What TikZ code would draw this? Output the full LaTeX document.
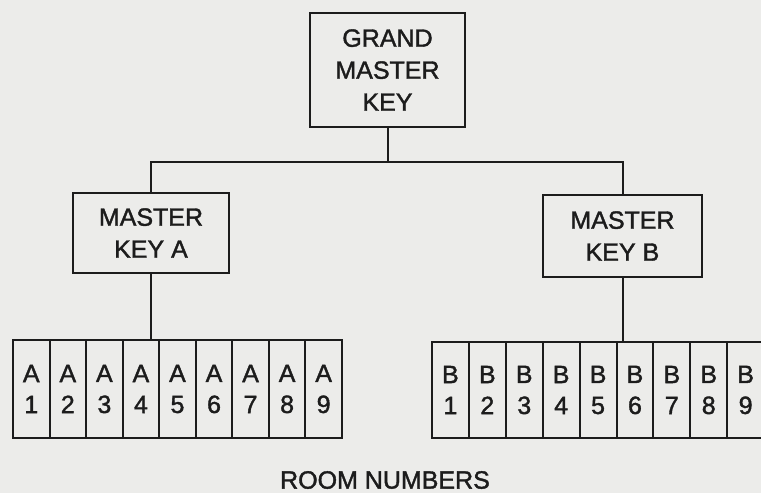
\documentclass[tikz,border=0pt]{standalone}
\usepackage{fontspec}
\setmainfont{Liberation Sans}[BoldFont=Liberation Sans, BoldFeatures={FakeBold=1.5}]
\definecolor{paper}{RGB}{236,236,234}
\definecolor{ink}{RGB}{28,28,28}
\tikzset{
  keybox/.style={draw=ink, line width=2pt, fill=paper, align=center, inner sep=0pt,
    font=\fontsize{25}{32}\bfseries\selectfont, text=ink},
  roomA/.style={draw=ink, line width=2pt, fill=paper, align=center, inner sep=0pt,
    minimum width=36.55pt, minimum height=98pt, font=\fontsize{25}{31}\bfseries\selectfont, text=ink},
  roomB/.style={roomA, minimum width=36.9pt, minimum height=96pt},
  link/.style={draw=ink, line width=2pt}
}
\begin{document}
\begin{tikzpicture}[x=1pt,y=-1pt]
\useasboundingbox (0,0) rectangle (761,493);
\fill[paper] (0,0) rectangle (761,493);
\clip (0,0) rectangle (761,493);
\node[keybox, minimum width=155pt, minimum height=114pt] (grand) at (387.5,70) {GRAND\\MASTER\\KEY};
\node[keybox, minimum width=156pt, minimum height=80pt] (mA) at (151,233) {MASTER\\KEY A};
\node[keybox, minimum width=159pt, minimum height=82pt] (mB) at (622.5,236) {MASTER\\KEY B};
\foreach \i in {1,...,9} {
  \node[roomA] (a\i) at ({13+36.55*(\i-0.5)},389) {A\\\i};
  \node[roomB] (b\i) at ({432+36.9*(\i-0.5)},390) {B\\\i};
}
\coordinate (bar) at (387.5,162);
\draw[link] (grand.south) -- (bar);
\draw[link] (mA.north) |- (bar) -| (mB.north);
\draw[link] (mA.south) -- (mA.south |- a4.north);
\draw[link] (mB.south) -- (mB.south |- b6.north);
\node[font=\fontsize{25}{30}\bfseries\selectfont, text=ink] (label) at (385,480) {ROOM NUMBERS};
\end{tikzpicture}
\end{document}
